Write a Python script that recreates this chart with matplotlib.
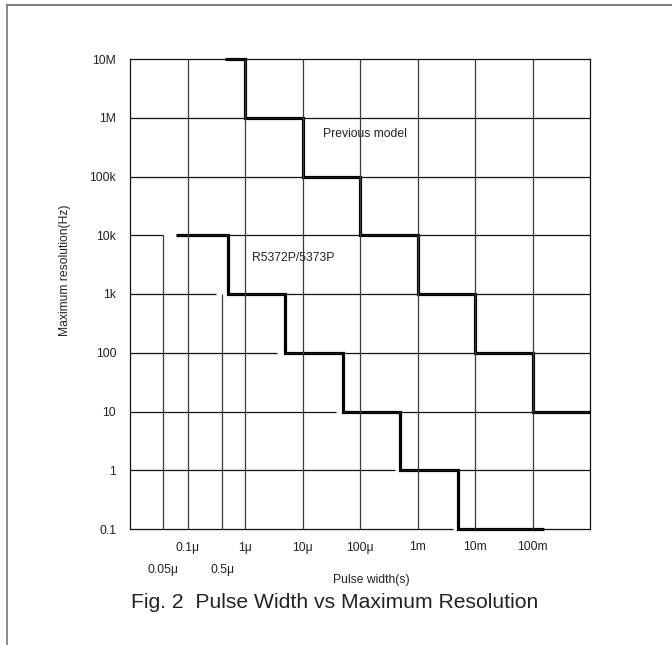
import matplotlib
matplotlib.use('Agg')
import matplotlib.pyplot as plt
from matplotlib.lines import Line2D

plt.rcParams['font.family'] = ['Liberation Sans', 'DejaVu Sans']

# ---- data ----
x_ticks = [1e-7, 1e-6, 1e-5, 1e-4, 1e-3, 1e-2, 1e-1]
x_tick_labels = ['0.1μ', '1μ', '10μ', '100μ', '1m', '10m', '100m']
x_minor_ticks = [0.038e-6, 0.4e-6]
x_minor_labels = ['0.05μ', '0.5μ']
x_minor_tops = [1e4, 1e3]
y_ticks = [0.1, 1, 10, 100, 1e3, 1e4, 1e5, 1e6, 1e7]
y_tick_labels = ['0.1', '1', '10', '100', '1k', '10k', '100k', '1M', '10M']

prev_edges = [0.45e-6, 1e-6, 1e-5, 1e-4, 1e-3, 1e-2, 1e-1, 1.0]
prev_levels = [1e7, 1e6, 1e5, 1e4, 1e3, 1e2, 10]
new_edges = [0.063e-6, 0.5e-6, 5e-6, 50e-6, 0.5e-3, 5e-3, 0.16]
new_levels = [1e4, 1e3, 1e2, 10, 1, 0.1]
gap_ends = [0.038e-6, 0.31e-6, 3.6e-6, 39e-6, 0.41e-3, 4.1e-3]
full_levels = [1e5, 1e6]

XMIN, XMAX = 1e-8, 1.0
YMIN, YMAX = 0.1, 1e7

W, H = 672, 645
fig = plt.figure(figsize=(W / 100, H / 100), dpi=100)
ax = fig.add_axes([130 / W, (H - 529) / H, 460 / W, 470 / H])
ax.set_xscale('log')
ax.set_yscale('log')
ax.set_xlim(XMIN, XMAX)
ax.set_ylim(YMIN, YMAX)

thin_h = '#111111'
thin_v = '#3a3a3a'
lw_thin = 0.9

# horizontal grid
ax.hlines(full_levels, XMIN, XMAX, color=thin_h, lw=lw_thin)
for lvl, ge, st in zip(new_levels, gap_ends, new_edges[:-1]):
    ax.hlines(lvl, XMIN, ge, color=thin_h, lw=lw_thin, clip_on=False)
    ax.hlines(lvl, st, XMAX, color=thin_h, lw=lw_thin, clip_on=False)

# vertical grid
ax.vlines(x_ticks, YMIN, YMAX, color=thin_v, lw=lw_thin)
for xm, top in zip(x_minor_ticks, x_minor_tops):
    ax.vlines(xm, YMIN, top, color=thin_v, lw=lw_thin)

# step curves
ax.stairs(prev_levels, prev_edges, baseline=None, color='black', lw=2.3, clip_on=False)
ax.stairs(new_levels, new_edges, baseline=None, color='black', lw=2.3, clip_on=False)

for side in ['left', 'top', 'right']:
    ax.spines[side].set_color(thin_h)
    ax.spines[side].set_linewidth(lw_thin)
ax.spines['bottom'].set_visible(False)

ax.set_xticks(x_ticks, x_tick_labels)
ax.set_xticks(x_minor_ticks, x_minor_labels, minor=True)
ax.set_yticks(y_ticks, y_tick_labels)
ax.set_yticks([], minor=True)
ax.tick_params(axis='x', which='major', length=0, pad=9, labelsize=8.7, labelcolor='#222')
ax.tick_params(axis='x', which='minor', length=0, pad=25, labelsize=8.7, labelcolor='#222')
ax.tick_params(axis='y', which='both', length=0, pad=10, labelsize=8.7, labelcolor='#222')
for lab in ax.get_yticklabels():
    lab.set_y(lab.get_position()[1])

ax.text(0.511, 0.840, 'Previous model', transform=ax.transAxes, ha='center', va='center',
        fontsize=8.7, color='#222')
ax.text(0.354, 0.577, 'R5372P/5373P', transform=ax.transAxes, ha='center', va='center',
        fontsize=8.7, color='#222')

fig.text(65 / W, 1 - 270 / H, 'Maximum resolution(Hz)', rotation=90, ha='center', va='center',
         fontsize=8.7, color='#222')
fig.text(371.5 / W, 1 - 580 / H, 'Pulse width(s)', ha='center', va='center',
         fontsize=8.7, color='#222')
fig.text(334.5 / W, 1 - 603 / H, 'Fig. 2  Pulse Width vs Maximum Resolution', ha='center',
         va='center', fontsize=15.2, color='#222')

# figure frame (top and left only)
fig.add_artist(Line2D([7 / W, 1], [1 - 4.5 / H, 1 - 4.5 / H], transform=fig.transFigure,
                      color='#666666', lw=1.2))
fig.add_artist(Line2D([7 / W, 7 / W], [0, 1 - 4.5 / H], transform=fig.transFigure,
                      color='#777777', lw=1.2))

fig.savefig('out.png', dpi=100)
